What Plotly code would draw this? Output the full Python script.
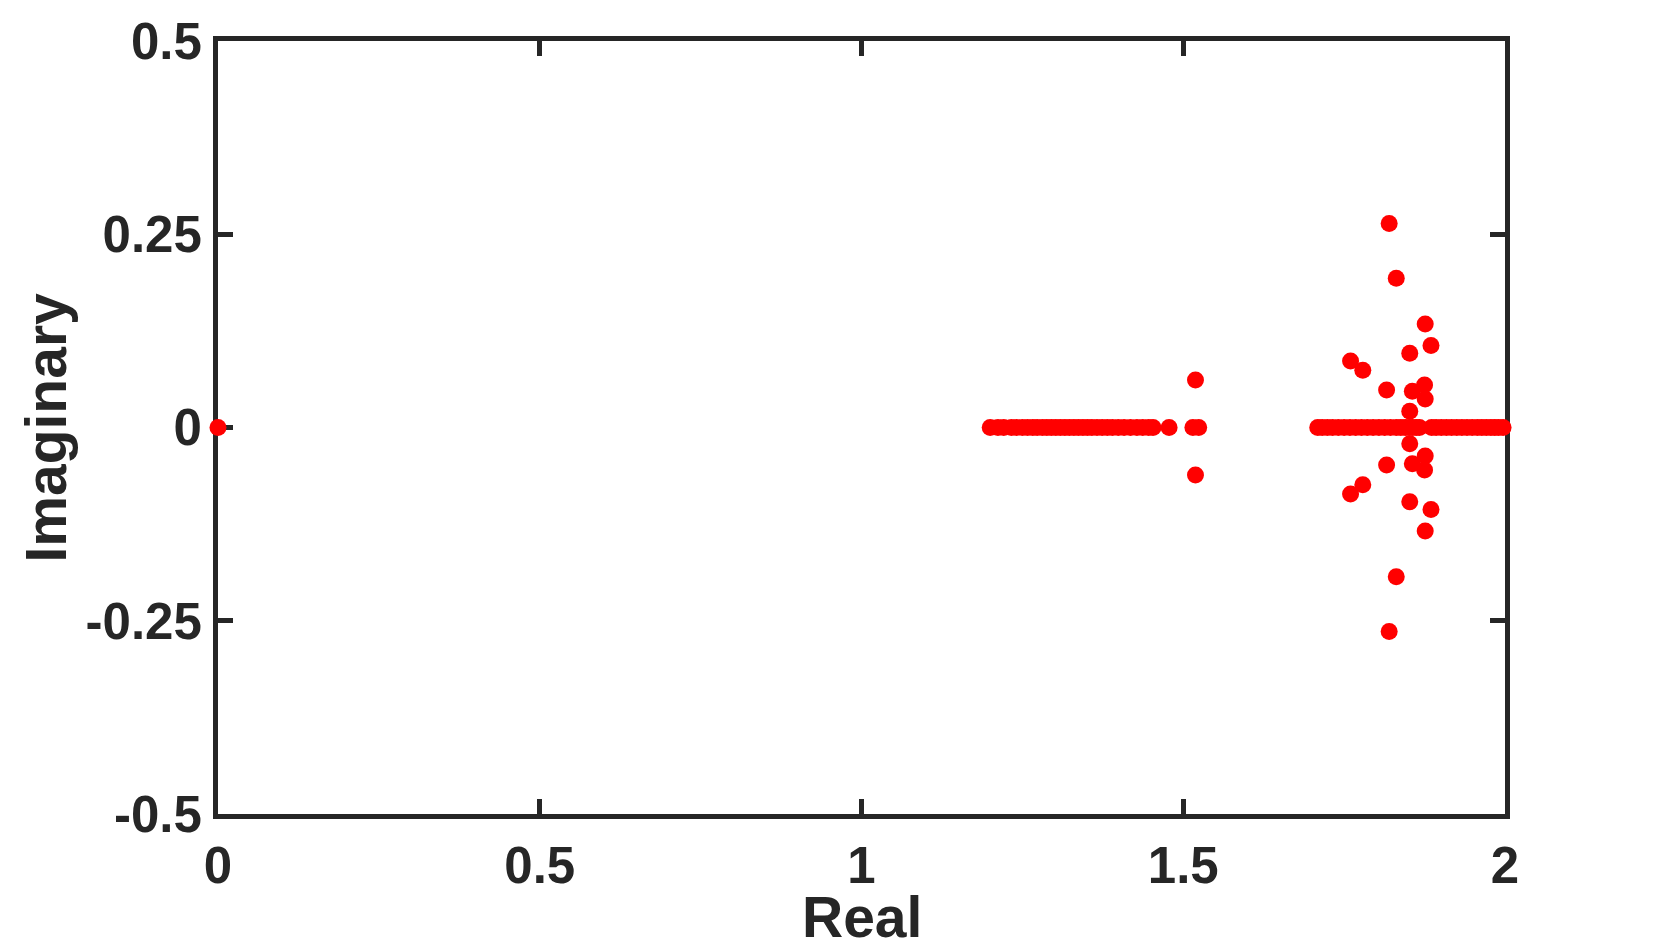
import plotly.graph_objects as go

# eigenvalues
real_axis = [0.0,
             1.200, 1.212, 1.221, 1.233, 1.241, 1.250, 1.258, 1.266, 1.273, 1.281,
             1.288, 1.295, 1.302, 1.309, 1.316, 1.323, 1.330, 1.337, 1.344, 1.351,
             1.358, 1.366, 1.374, 1.382, 1.390, 1.399, 1.408, 1.418, 1.428, 1.437,
             1.446, 1.453, 1.478, 1.515, 1.524,
             1.709, 1.716, 1.724, 1.732, 1.741, 1.750, 1.759, 1.768, 1.777, 1.786,
             1.795, 1.804, 1.813, 1.822, 1.831, 1.838, 1.845, 1.851, 1.856, 1.862,
             1.867, 1.886, 1.893, 1.901, 1.909, 1.917, 1.925, 1.933, 1.941, 1.949,
             1.957, 1.964, 1.971, 1.978, 1.984, 1.990, 1.997]

# complex conjugate pairs (real part, +imag part)
pair_re = [1.519, 1.820, 1.831, 1.876, 1.885, 1.852, 1.760, 1.779, 1.816,
           1.856, 1.875, 1.876, 1.852]
pair_im = [0.0614, 0.264, 0.193, 0.134, 0.106, 0.096, 0.086, 0.074, 0.0485,
           0.047, 0.055, 0.037, 0.021]

x_ticks = [0, 0.5, 1, 1.5, 2]
x_labels = ["0", "0.5", "1", "1.5", "2"]
y_ticks = [-0.5, -0.25, 0, 0.25, 0.5]
y_labels = ["-0.5", "-0.25", "0", "0.25", "0.5"]

xs = real_axis + pair_re + pair_re
ys = [0.0] * len(real_axis) + pair_im + [-v for v in pair_im]

AX = "#262626"
FONT = "Liberation Sans"

fig = go.Figure()
fig.add_trace(go.Scatter(
    x=xs, y=ys, mode="markers",
    marker=dict(color="#ff0000", size=17, line_width=0),
    cliponaxis=False,
    showlegend=False,
))

axis_style = dict(
    showgrid=False, zeroline=False, automargin=False,
    showline=True, linecolor=AX, linewidth=5,
    mirror="ticks", ticks="inside", ticklen=15, tickwidth=5, tickcolor=AX,
    tickfont=dict(family=FONT, size=51, color=AX, weight="bold"),
    layer="below traces",
)
title_font = dict(family=FONT, size=57, color=AX, weight="bold")

fig.update_xaxes(range=[0, 2], tickvals=x_ticks, ticktext=x_labels,
                 ticklabelstandoff=3, **axis_style)
fig.update_yaxes(range=[-0.5, 0.5], tickvals=y_ticks, ticktext=y_labels,
                 ticklabelstandoff=1, **axis_style)

# axis titles placed by hand so automargin does not squeeze the plot
fig.add_annotation(text="Real", x=0.5, y=0, xref="paper", yref="paper",
                   xanchor="center", yanchor="top", yshift=-69,
                   showarrow=False, font=title_font)
fig.add_annotation(text="Imaginary", x=0, y=0.5, xref="paper", yref="paper",
                   xanchor="center", yanchor="middle", xshift=-173, textangle=-90,
                   showarrow=False, font=title_font)

# the page adds an 8px body margin at the top and left
fig.update_layout(
    width=1645, height=942,
    margin=dict(l=210, r=148, t=33, b=136),
    plot_bgcolor="white", paper_bgcolor="white",
)

fig.write_html("out.html")
